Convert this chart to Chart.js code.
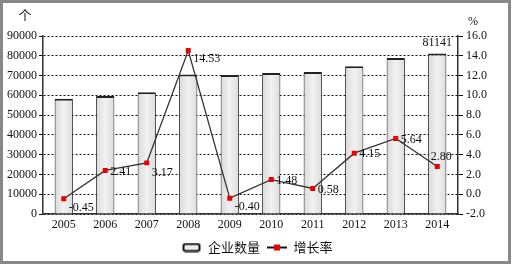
<!DOCTYPE html>
<html>
<head>
<meta charset="utf-8">
<script src="https://cdn.jsdelivr.net/npm/chart.js@4"></script>
<style>
  html, body { margin: 0; padding: 0; background: #fff; }
  #wrap { width: 514px; height: 266px; position: relative; }
</style>
</head>
<body>
<div id="wrap"><canvas id="enterpriseChart"></canvas></div>
<script>
const years = ['2005', '2006', '2007', '2008', '2009', '2010', '2011', '2012', '2013', '2014'];
const companyCount = [58320, 59720, 61620, 70570, 70290, 71330, 71740, 74720, 78930, 81141];
const growthRate = [-0.45, 2.41, 3.17, 14.53, -0.40, 1.48, 0.58, 4.15, 5.64, 2.80];
const countTicks = [0, 10000, 20000, 30000, 40000, 50000, 60000, 70000, 80000, 90000];
const rateTicks = [-2, 0, 2, 4, 6, 8, 10, 12, 14, 16];

const serif = '"Liberation Serif", "DejaVu Serif", serif';
const cjk = '"Noto Sans CJK SC", sans-serif';

// legend icons
function makeIcon(draw) {
  const c = document.createElement('canvas');
  c.width = 20; c.height = 10;
  draw(c.getContext('2d'));
  return c;
}
const barIcon = makeIcon(function(g) {
  g.fillStyle = '#eee';
  g.strokeStyle = '#111';
  g.lineWidth = 2;
  g.beginPath();
  g.roundRect(2, 1.5, 16, 7, 2);
  g.fill();
  g.stroke();
});
const lineIcon = makeIcon(function(g) {
  g.strokeStyle = '#111';
  g.lineWidth = 2;
  g.beginPath();
  g.moveTo(0, 5); g.lineTo(20, 5);
  g.stroke();
  g.fillStyle = '#e00';
  g.fillRect(7, 2, 6, 6);
});

const extras = {
  id: 'extras',
  afterDraw(chart) {
    const g = chart.ctx;
    g.save();
    // outer frame
    g.strokeStyle = '#888';
    g.lineWidth = 3;
    g.strokeRect(1.5, 1.5, 508, 261);
    // axis titles
    g.fillStyle = '#111';
    g.font = '13px ' + cjk;
    g.textAlign = 'center';
    g.textBaseline = 'middle';
    g.fillText('个', 25, 15);
    g.font = '12px ' + serif;
    g.fillText('%', 473, 22);

    // growth labels
    const meta = chart.getDatasetMeta(1);
    g.font = '12px ' + serif;
    g.textAlign = 'left';
    meta.data.forEach(function(pt, i) {
      const txt = growthRate[i].toFixed(2);
      if (i === growthRate.length - 1) {
        g.textAlign = 'center';
        g.fillText(txt, pt.x + 4, pt.y - 10);
        g.textAlign = 'left';
      } else {
        const dy = growthRate[i] < 0 ? 9 : (i === 2 ? 10 : (i === 3 ? 8 : 1));
        g.fillText(txt, pt.x + 5, pt.y + dy);
      }
    });
    // last bar value
    const bars = chart.getDatasetMeta(0);
    const last = bars.data[bars.data.length - 1];
    g.textAlign = 'center';
    g.fillText(String(companyCount[companyCount.length - 1]), last.x, last.y - 11);
    g.restore();
  }
};

const ctx = document.getElementById('enterpriseChart').getContext('2d');

const enterpriseChart = new Chart(ctx, {
  data: {
    labels: years,
    datasets: [
      {
        type: 'bar',
        label: '企业数量',
        data: companyCount,
        yAxisID: 'y',
        order: 1,
        backgroundColor: function(c) {
          const xs = c.chart.scales && c.chart.scales.x;
          if (!xs || c.dataIndex === undefined) return '#e8e8e8';
          const cx = xs.getPixelForValue(c.dataIndex);
          if (!Number.isFinite(cx)) return '#e8e8e8';
          const w = 9;
          const gr = c.chart.ctx.createLinearGradient(cx - w, 0, cx + w, 0);
          gr.addColorStop(0, '#dadada');
          gr.addColorStop(0.5, '#f2f2f2');
          gr.addColorStop(1, '#dddddd');
          return gr;
        },
        borderColor: '#222',
        borderWidth: { top: 2, left: 1, right: 1, bottom: 0 },
        borderSkipped: false,
        categoryPercentage: 1,
        barPercentage: 0.44
      },
      {
        type: 'line',
        label: '增长率',
        data: growthRate,
        yAxisID: 'y1',
        order: 0,
        borderColor: '#333',
        borderWidth: 1.3,
        pointStyle: 'rect',
        pointRadius: 2.6,
        pointBackgroundColor: '#e00',
        pointBorderColor: '#e00',
        tension: 0
      }
    ]
  },
  options: {
    responsive: true,
    maintainAspectRatio: false,
    animation: false,
    layout: { padding: { top: 36, left: 0, right: 0, bottom: 2 } },
    plugins: {
      tooltip: { enabled: false },
      legend: {
        position: 'bottom',
        labels: {
          usePointStyle: true,
          pointStyleWidth: 20,
          boxHeight: 10,
          padding: 7,
          color: '#111',
          font: { family: cjk, size: 13 },
          generateLabels: function(chart) {
            const items = Chart.defaults.plugins.legend.labels.generateLabels(chart);
            items.forEach(function(it) {
              it.pointStyle = it.datasetIndex === 0 ? barIcon : lineIcon;
            });
            return items.sort(function(a, b) { return a.datasetIndex - b.datasetIndex; });
          }
        }
      }
    },
    scales: {
      x: {
        grid: { display: false, drawTicks: false },
        border: { display: true, color: '#333', width: 1.5 },
        ticks: { color: '#111', font: { family: serif, size: 12 }, padding: 4 },
        afterFit: function(s) { s.height = 20; }
      },
      y: {
        position: 'left',
        min: 0,
        max: 90000,
        afterBuildTicks: function(s) { s.ticks = countTicks.map(function(v) { return { value: v }; }); },
        grid: {
          color: '#111',
          lineWidth: 1,
          tickLength: 4,
          tickColor: '#111'
        },
        border: { display: true, color: '#333', width: 1.5, dash: [2, 2] },
        ticks: {
          color: '#111',
          font: { family: serif, size: 12 },
          padding: 2,
          callback: function(v) { return String(v); }
        },
        afterFit: function(s) { s.width = 43; }
      },
      y1: {
        position: 'right',
        min: -2,
        max: 16,
        afterBuildTicks: function(s) { s.ticks = rateTicks.map(function(v) { return { value: v }; }); },
        grid: { drawOnChartArea: false, tickLength: 5, color: '#111' },
        border: { display: true, color: '#333', width: 1.5 },
        ticks: {
          color: '#111',
          font: { family: serif, size: 12 },
          padding: 3,
          callback: function(v) { return Number(v).toFixed(1); }
        },
        afterFit: function(s) { s.width = 56; }
      }
    }
  },
  plugins: [extras]
});
</script>
</body>
</html>
